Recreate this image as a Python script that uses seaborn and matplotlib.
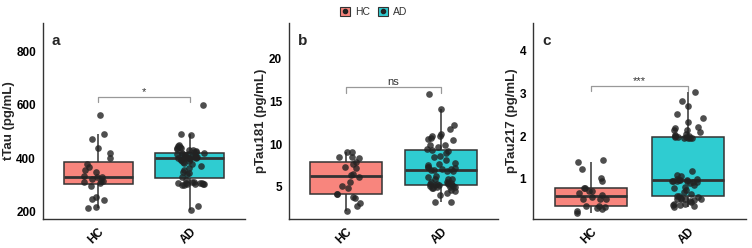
import numpy as np
import pandas as pd
import matplotlib
matplotlib.use('Agg')
import matplotlib.pyplot as plt
import seaborn as sns
from matplotlib.patches import Patch
from matplotlib.lines import Line2D
from matplotlib.legend_handler import HandlerTuple

groups = ['HC', 'AD']
palette = {'HC': '#F8857D', 'AD': '#2FCCD1'}

# tTau (pg/mL)
ttau_hc = [560, 490, 472, 438, 418, 399, 380, 367, 356, 349, 335, 330, 329, 324,
           315, 314, 310, 306, 296, 255, 249, 244, 218, 215]
ttau_ad = [206, 222, 300, 301, 302, 303, 304, 305, 306, 307, 308, 309, 310, 312,
           320, 330, 340, 344, 350, 356, 362, 370, 378, 382, 386, 390, 392, 395,
           397, 399, 400, 401, 402, 403, 404, 405, 406, 408, 409, 410, 412, 414,
           415, 417, 418, 420, 422, 425, 428, 430, 432, 435, 438, 440, 442, 445,
           450, 487, 490, 598]

# pTau181 (pg/mL)
ptau181_hc = [9.04, 9.04, 8.44, 8.44, 8.36, 7.9, 7.65, 7.33, 7.18, 6.46, 6.38,
              6.15, 5.59, 5.08, 4.8, 4.17, 4.09, 3.81, 3.61, 3.1, 2.74, 2.11]
ptau181_ad = [15.88, 14.1, 12.2, 11.8, 11.13, 10.94, 10.9, 10.74, 10.54, 10.42,
              9.9, 9.83, 9.63, 9.43, 9.31, 9.23, 8.9, 8.64, 8.44, 8.13, 7.8, 7.65,
              7.53, 7.33, 7.26, 7.2, 7.1, 7.05, 7.0, 6.95, 6.86, 6.78, 6.27, 6.15,
              5.87, 5.87, 5.87, 5.6, 5.59, 5.47, 5.44, 5.35, 5.28, 5.28, 5.2, 5.2,
              5.16, 5.08, 5.08, 5.0, 4.96, 4.96, 4.88, 4.8, 4.56, 4.49, 4.29, 4.0,
              3.22, 3.14]

# pTau217 (pg/mL)
ptau217_hc = [1.43, 1.39, 1.23, 1.03, 0.96, 0.79, 0.78, 0.72, 0.72, 0.68, 0.62,
              0.58, 0.54, 0.53, 0.53, 0.37, 0.36, 0.34, 0.32, 0.29, 0.24, 0.21]
ptau217_ad = [3.03, 2.82, 2.71, 2.53, 2.42, 2.33, 2.22, 2.18, 2.14, 2.14, 2.1,
              2.05, 2.02, 2.0, 2.0, 1.98, 1.98, 1.97, 1.96, 1.96, 1.96, 1.95,
              1.19, 1.08, 1.06, 1.0, 0.99, 0.98, 0.97, 0.97, 0.96, 0.95, 0.95,
              0.94, 0.93, 0.92, 0.9, 0.86, 0.82, 0.78, 0.74, 0.7, 0.64, 0.61,
              0.61, 0.58, 0.56, 0.54, 0.54, 0.54, 0.53, 0.5, 0.48, 0.46, 0.4,
              0.4, 0.38, 0.38, 0.36, 0.34]

sns.set_style('white')
plt.rcParams['font.family'] = ['Liberation Sans', 'DejaVu Sans']

edge = '#333333'


def panel(ax, hc, ad, ylabel, letter, ylim, yticks, sig, sig_y):
    df = pd.DataFrame({'group': ['HC'] * len(hc) + ['AD'] * len(ad),
                       'value': hc + ad})
    sns.boxplot(data=df, x='group', y='value', hue='group', order=groups,
                palette=palette, saturation=1, width=0.75, whis=1.5,
                showfliers=False, linecolor=edge, linewidth=1.1,
                capprops=dict(linewidth=0), medianprops=dict(linewidth=2),
                legend=False, ax=ax)
    sns.stripplot(data=df, x='group', y='value', order=groups, color='#222222',
                  alpha=0.8, size=4.8, jitter=0.16, linewidth=0, ax=ax)
    ax.set_xlim(-0.6, 1.6)
    ax.set_ylim(*ylim)
    ax.set_yticks(yticks)
    ax.set_xlabel('')
    ax.set_ylabel(ylabel, fontsize=9.5, fontweight='bold', labelpad=1)
    for s in ['top', 'right']:
        ax.spines[s].set_visible(False)
    for s in ['left', 'bottom']:
        ax.spines[s].set_color(edge)
        ax.spines[s].set_linewidth(1)
    ax.tick_params(axis='both', length=3, width=1, color=edge, labelsize=8.5,
                   pad=2, labelcolor='black')
    for t in ax.get_yticklabels():
        t.set_fontweight('bold')
    for t in ax.get_xticklabels():
        t.set_fontweight('bold')
        t.set_rotation(45)
        t.set_ha('right')
        t.set_va('top')
        t.set_rotation_mode('anchor')
    # significance bracket
    top, drop = sig_y
    ax.plot([0, 0, 1, 1], [drop, top, top, drop], color='#999999', lw=0.9)
    ax.text(0.5, top, sig, ha='center', va='bottom', fontsize=8, color=edge)
    ax.text(0.065, 0.91, letter, transform=ax.transAxes, ha='center',
            va='center', fontsize=11, fontweight='bold')


np.random.seed(3)
fig = plt.figure(figsize=(7.52, 2.48), dpi=100)
ax1 = fig.add_axes([43 / 752, 1 - 219 / 248, 202 / 752, 196 / 248])
ax2 = fig.add_axes([289 / 752, 1 - 219 / 248, 209 / 752, 196 / 248])
ax3 = fig.add_axes([533 / 752, 1 - 219 / 248, 213 / 752, 196 / 248])

panel(ax1, ttau_hc, ttau_ad, 'tTau (pg/mL)', 'a', (173, 905),
      [200, 400, 600, 800], '*', (628, 610))
panel(ax2, ptau181_hc, ptau181_ad, 'pTau181 (pg/mL)', 'b', (1.2, 24.2),
      [5, 10, 15, 20], 'ns', (16.67, 16.04))
panel(ax3, ptau217_hc, ptau217_ad, 'pTau217 (pg/mL)', 'c', (0.06, 4.65),
      [1, 2, 3, 4], '***', (3.17, 3.05))

handles = [(Patch(facecolor=palette[g], edgecolor=edge, linewidth=0.8),
            Line2D([], [], marker='o', color='#222222', ls='', markersize=3))
           for g in groups]
fig.legend(handles, groups, loc='upper center', bbox_to_anchor=(0.497, 1.01),
           ncol=2, frameon=False, fontsize=7.5, handlelength=0.9,
           handleheight=0.9, handletextpad=0.5, columnspacing=0.8,
           labelcolor='#333333',
           handler_map={tuple: HandlerTuple(ndivide=1)})

fig.savefig('out.png', dpi=100)
